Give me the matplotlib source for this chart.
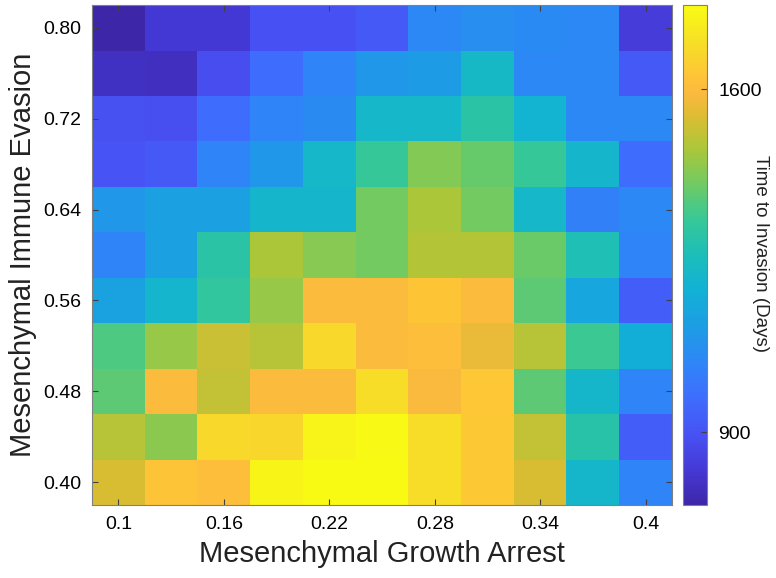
import numpy as np
import matplotlib
matplotlib.use("Agg")
import matplotlib.pyplot as plt
from matplotlib.colors import LinearSegmentedColormap

plt.rcParams['font.family'] = ['Liberation Sans', 'DejaVu Sans']

# parameter grid
growth_arrest = [0.10, 0.13, 0.16, 0.19, 0.22, 0.25, 0.28, 0.31, 0.34, 0.37, 0.40]
immune_evasion = [0.40, 0.44, 0.48, 0.52, 0.56, 0.60, 0.64, 0.68, 0.72, 0.76, 0.80]

# time to invasion (days), rows = immune evasion from 0.40 up to 0.80
row_040 = [1537, 1625, 1605, 1755, 1770, 1772, 1690, 1640, 1537, 1220, 1037]
row_044 = [1496, 1440, 1680, 1675, 1752, 1765, 1690, 1640, 1510, 1295, 930]
row_048 = [1384, 1598, 1510, 1598, 1598, 1690, 1590, 1635, 1384, 1220, 1037]
row_052 = [1364, 1455, 1517, 1496, 1680, 1598, 1605, 1568, 1496, 1340, 1180]
row_056 = [1135, 1210, 1320, 1455, 1598, 1598, 1629, 1598, 1384, 1150, 930]
row_060 = [1037, 1129, 1302, 1480, 1435, 1410, 1490, 1490, 1400, 1272, 1037]
row_064 = [1098, 1129, 1129, 1215, 1215, 1410, 1480, 1410, 1225, 1025, 1047]
row_068 = [900, 915, 1037, 1098, 1225, 1333, 1430, 1394, 1333, 1215, 971]
row_072 = [894, 890, 971, 1037, 1060, 1225, 1225, 1302, 1200, 1047, 1047]
row_076 = [792, 790, 884, 971, 1037, 1098, 1110, 1231, 1047, 1047, 915]
row_080 = [751, 822, 822, 897, 897, 915, 1047, 1068, 1055, 1047, 833]

cbar_ticks = [900, 1600]

data = np.array([row_040, row_044, row_048, row_052, row_056, row_060,
                 row_064, row_068, row_072, row_076, row_080])

# parula-like colormap
parula_pts = [
    (0.000, (0.2422, 0.1504, 0.6603)),
    (0.070, (0.2700, 0.2250, 0.8400)),
    (0.143, (0.2810, 0.3228, 0.9579)),
    (0.215, (0.2450, 0.4300, 0.9950)),
    (0.286, (0.1786, 0.5289, 0.9682)),
    (0.357, (0.1150, 0.6150, 0.8950)),
    (0.429, (0.0689, 0.6948, 0.8394)),
    (0.500, (0.1100, 0.7450, 0.7300)),
    (0.571, (0.2161, 0.7843, 0.5923)),
    (0.643, (0.4400, 0.7950, 0.3900)),
    (0.714, (0.6720, 0.7793, 0.2227)),
    (0.780, (0.8700, 0.7400, 0.2000)),
    (0.825, (0.9850, 0.7300, 0.2450)),
    (0.857, (0.9970, 0.7659, 0.2199)),
    (0.930, (0.9650, 0.8800, 0.1450)),
    (1.000, (0.9769, 0.9839, 0.0805)),
]
parula = LinearSegmentedColormap.from_list("parula", parula_pts)

fig = plt.figure(figsize=(7.76, 5.78), dpi=100)
ax = fig.add_axes([0.1186, 0.1263, 0.7474, 0.865])
cax = fig.add_axes([0.880, 0.1263, 0.031, 0.865])

im = ax.imshow(data, origin='lower', cmap=parula, aspect='auto',
               interpolation='nearest', vmin=data.min(), vmax=data.max())

ax.set_xticks(range(0, len(growth_arrest), 2))
ax.set_xticklabels(['%g' % v for v in growth_arrest[::2]])
ax.set_yticks(range(0, len(immune_evasion), 2))
ax.set_yticklabels(['%.2f' % v for v in immune_evasion[::2]])
ax.tick_params(direction='in', length=4, width=0.8, color='#404040',
               labelsize=14, top=True, right=True, pad=8)
for s in ax.spines.values():
    s.set_color('#808080')
    s.set_linewidth(0.8)

ax.set_xlabel('Mesenchymal Growth Arrest', fontsize=21, labelpad=5, color='#222222')
ax.set_ylabel('Mesenchymal Immune Evasion', fontsize=21, labelpad=4, color='#222222')

cb = fig.colorbar(im, cax=cax)
cb.set_ticks(cbar_ticks)
cb.ax.tick_params(direction='in', length=4, width=0.8, color='#404040',
                  labelsize=14, pad=8)
cb.outline.set_edgecolor('#808080')
cb.outline.set_linewidth(0.8)
fig.text(0.980, 0.562, 'Time to Invasion (Days)', rotation=-90, fontsize=13.5,
         ha='center', va='center', color='#222222')

fig.savefig('out.png', dpi=100)
